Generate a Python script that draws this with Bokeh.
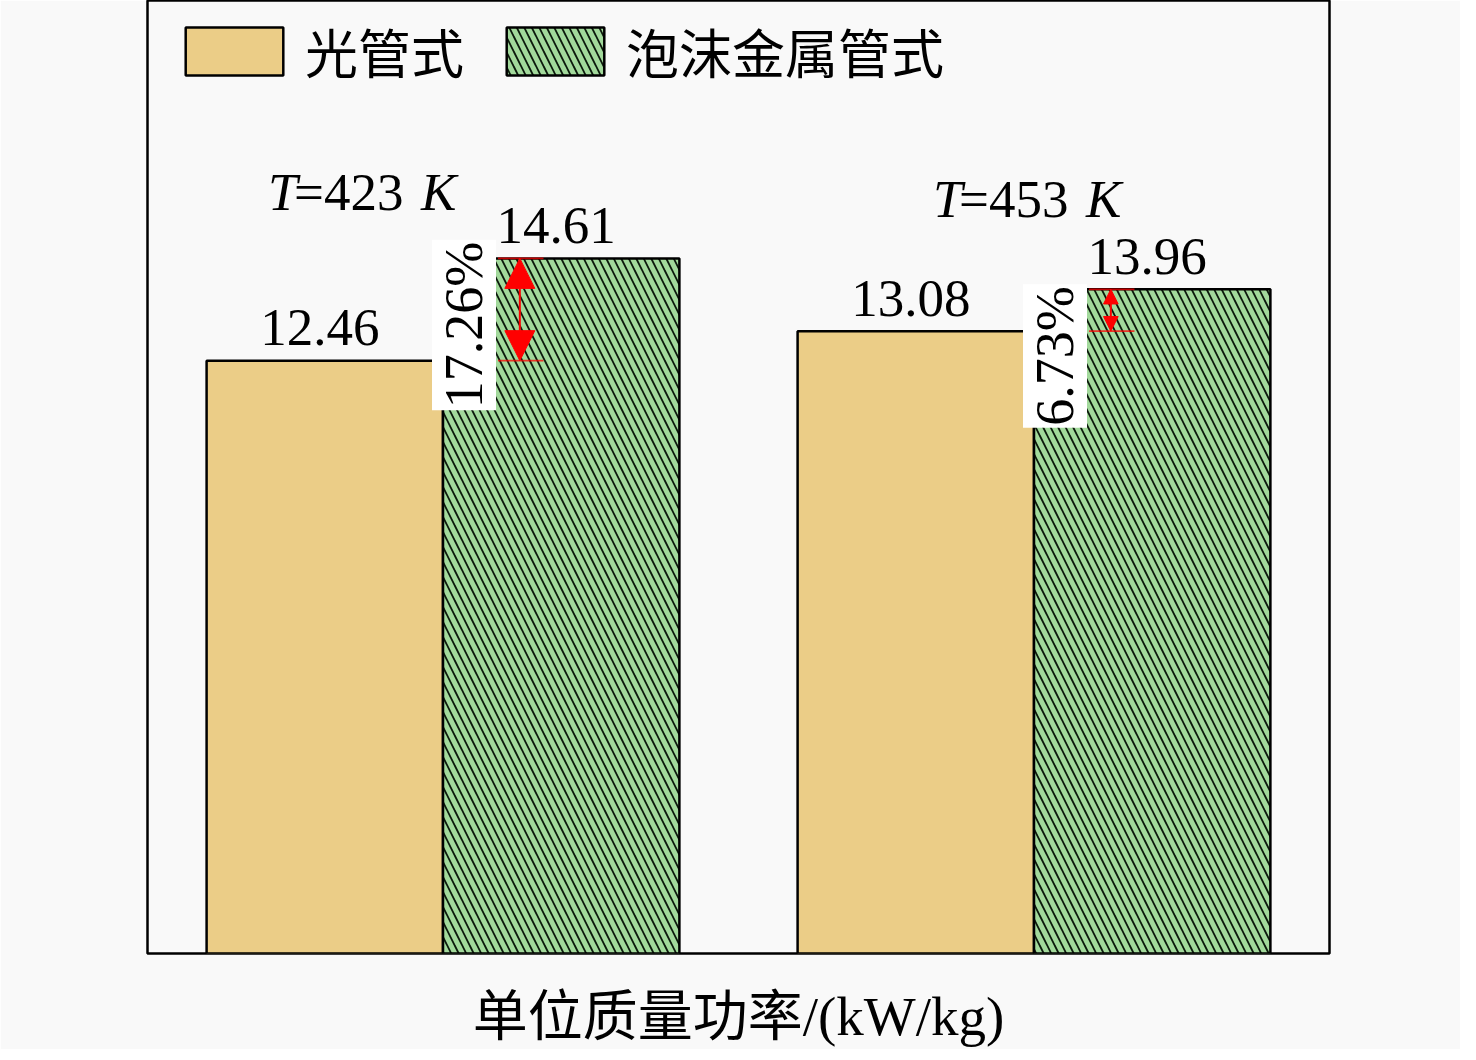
import numpy as np
from math import pi
from bokeh.plotting import figure
from bokeh.models import ColumnDataSource, Range1d, Legend, LegendItem, Arrow, NormalHead
from bokeh.core.properties import value
from bokeh.embed import file_html
from bokeh.resources import INLINE

# ---------------- data ----------------
temperatures = ["423", "453"]
bare_tube = [12.46, 13.08]          # 光管式
foam_tube = [14.61, 13.96]          # 泡沫金属管式
increase_pct = ["17.26%", "6.73%"]
series_names = ["光管式", "泡沫金属管式"]
x_label = "单位质量功率/(kW/kg)"

# ---------------- style ----------------
FONT = "Liberation Serif, Noto Sans CJK SC"
ORANGE = "#ebcd87"
GREEN = "#a2d99b"
BG = "#f9f9f9"
FS = "53px"
FRAME_H = 953
YMAX = 20.03
tlabel_dx = [-175, -101]   # pixel offsets of the "T=... K" labels
tlabel_dy = [-19, -12]

xs = np.arange(len(temperatures)) + 1.0
src = ColumnDataSource(dict(
    xc=xs, xb=xs - 0.2, xf=xs + 0.2,
    tk0=xs + 0.093, tk1=xs + 0.17,
    bare=bare_tube, foam=foam_tube,
    bare_txt=[f"{v:.2f}" for v in bare_tube],
    foam_txt=[f"{v:.2f}" for v in foam_tube],
    pct=increase_pct,
    pct_y=[f - 1.4 for f in foam_tube],
    t_T=["T"] * len(temperatures),
    t_eq=["=" + t for t in temperatures],
    t_K=["K"] * len(temperatures),
    tdx=tlabel_dx, tdx2=[d + 26 for d in tlabel_dx], tdx3=[d + 153 for d in tlabel_dx],
    tdy=tlabel_dy,
    ty=[15.6] * len(temperatures),
))

p = figure(frame_width=1182, frame_height=FRAME_H, output_backend="svg", toolbar_location=None,
           x_range=Range1d(0.5, 2.5), y_range=Range1d(0, YMAX),
           min_border_left=147, min_border_right=131, min_border_top=0, min_border_bottom=91)
p.background_fill_color = BG
p.border_fill_color = BG
p.outline_line_color = "black"
p.outline_line_width = 2.5
p.xgrid.visible = False
p.ygrid.visible = False
p.yaxis.visible = False
p.xaxis.major_tick_line_color = None
p.xaxis.minor_tick_line_color = None
p.xaxis.axis_line_color = None
p.xaxis.major_label_text_font_size = "0px"
p.xaxis.axis_label = x_label
p.xaxis.axis_label_text_font = FONT
p.xaxis.axis_label_text_font_size = "55px"
p.xaxis.axis_label_text_font_style = "normal"
p.xaxis.axis_label_text_color = "black"
p.xaxis.axis_label_standoff = 26

r1 = p.vbar(x="xb", top="bare", width=0.4, source=src, fill_color=ORANGE,
            line_color="black", line_width=2.5)
r2 = p.vbar(x="xf", top="foam", width=0.4, source=src, fill_color=GREEN,
            line_color="black", line_width=2.5, hatch_pattern="\\", hatch_color="#0c1a0c",
            hatch_scale=15, hatch_weight=1.8)

# value labels
for xcol, ycol, tcol in (("xb", "bare", "bare_txt"), ("xf", "foam", "foam_txt")):
    p.text(x=xcol, y=ycol, text=tcol, source=src, text_align="center",
           text_baseline="alphabetic", y_offset=-33, x_offset=-5, text_font=value(FONT),
           text_font_size=FS, text_color="black")

# temperature labels "T=... K"
for col, dxcol, style in (("t_T", "tdx", "italic"), ("t_eq", "tdx2", "normal"), ("t_K", "tdx3", "italic")):
    p.text(x="xc", y="ty", text=col, source=src, x_offset=dxcol, y_offset="tdy",
           text_align="left", text_baseline="alphabetic", text_font=value(FONT),
           text_font_size=FS, text_font_style=style, text_color="black")

# red tick marks and double arrows
for ycol in ("bare", "foam"):
    p.segment(x0="tk0", x1="tk1", y0=ycol, y1=ycol, source=src, line_color="red",
              line_width=1.8, line_alpha=0.75)
for i in range(len(temperatures)):
    diff_px = (foam_tube[i] - bare_tube[i]) * FRAME_H / YMAX
    hs = min(30, diff_px * 0.35)
    one = ColumnDataSource(dict(xa=[xs[i] + 0.13], y0=[bare_tube[i]], y1=[foam_tube[i]]))
    p.add_layout(Arrow(x_start="xa", y_start="y0", x_end="xa", y_end="y1", source=one,
                       line_color="red", line_width=2,
                       start=NormalHead(size=hs, fill_color="red", line_color="red"),
                       end=NormalHead(size=hs, fill_color="red", line_color="red")))

# percentage labels (rotated, white box)
p.text(x="xc", y="pct_y", text="pct", source=src, angle=pi / 2, x_offset=21,
       text_align="center", text_baseline="middle", text_font=value(FONT),
       text_font_size="54px", text_color="black", background_fill_color="white",
       padding=2)

legend = Legend(items=[LegendItem(label=series_names[0], renderers=[r1]),
                       LegendItem(label=series_names[1], renderers=[r2])],
                orientation="horizontal", location=(26, FRAME_H - 89),
                glyph_width=122, glyph_height=60, label_text_font=FONT,
                label_text_font_size=FS, label_text_color="black",
                label_standoff=10, spacing=30,
                background_fill_alpha=0, border_line_color=None, margin=0, padding=0)
p.add_layout(legend)

open("out.html", "w").write(file_html(p, INLINE))
